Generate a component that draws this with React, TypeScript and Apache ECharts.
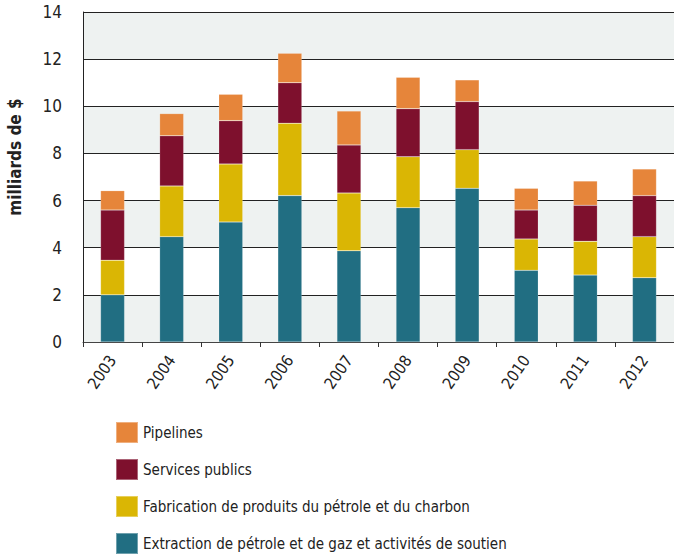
import React, { useEffect, useRef } from "react";
import * as echarts from "echarts";

const years = ["2003", "2004", "2005", "2006", "2007", "2008", "2009", "2010", "2011", "2012"];
const extraction = [2.0, 4.47, 5.09, 6.21, 3.87, 5.7, 6.52, 3.04, 2.84, 2.73];
const fabrication = [1.47, 2.15, 2.46, 3.07, 2.45, 2.16, 1.64, 1.33, 1.43, 1.74];
const services = [2.13, 2.13, 1.84, 1.72, 2.04, 2.04, 2.04, 1.23, 1.53, 1.74];
const pipelines = [0.82, 0.94, 1.12, 1.25, 1.44, 1.33, 0.92, 0.92, 1.03, 1.13];

const names = {
  extraction: "Extraction de pétrole et de gaz et activités de soutien",
  fabrication: "Fabrication de produits du pétrole et du charbon",
  services: "Services publics",
  pipelines: "Pipelines",
};
const colors = {
  extraction: "#216e82",
  fabrication: "#dab604",
  services: "#7e102d",
  pipelines: "#e6853a",
};

const FONT = "'DejaVu Sans Condensed', 'Liberation Sans Narrow', 'Roboto', sans-serif";

export default function App() {
  const ref = useRef<HTMLDivElement>(null);
  useEffect(() => {
    if (!ref.current) return;
    const chart = echarts.init(ref.current, null, { renderer: "svg" });
    const mk = (key: keyof typeof names, data: number[]) => ({
      name: names[key],
      type: "bar",
      stack: "total",
      barWidth: 24,
      data,
      itemStyle: { color: colors[key], borderColor: "rgba(255,255,255,0.35)", borderWidth: 0.5 },
    });
    chart.setOption({
      animation: false,
      textStyle: { fontFamily: FONT },
      grid: { left: 83, top: 12, width: 594, height: 330, containLabel: false },
      xAxis: {
        type: "category",
        data: years,
        axisLine: { show: true, lineStyle: { color: "#444", width: 1 } },
        axisTick: { show: true, length: 5, interval: 0, lineStyle: { color: "#333" } },
        axisLabel: { rotate: 55, margin: 15, fontSize: 16, color: "#222", fontFamily: FONT, interval: 0 },
      },
      yAxis: {
        type: "value",
        min: 0,
        max: 14,
        interval: 2,
        axisLine: { show: true, lineStyle: { color: "#222", width: 1 } },
        axisTick: { show: false },
        axisLabel: { margin: 21, fontSize: 17, color: "#222", fontFamily: FONT },
        splitLine: { show: true, lineStyle: { color: "#222", width: 1 } },
        splitArea: { show: true, areaStyle: { color: ["#eef2f1", "#ffffff"] } },
      },
      legend: {
        orient: "vertical",
        left: 115,
        top: 421,
        height: 300,
        width: 540,
        padding: 0,
        itemWidth: 22,
        itemHeight: 21,
        itemGap: 14,
        icon: "rect",
        data: [names.pipelines, names.services, names.fabrication, names.extraction],
        textStyle: { fontSize: 15, color: "#222", fontFamily: FONT },
      },
      graphic: [
        {
          type: "text",
          x: 15,
          y: 157,
          rotation: Math.PI / 2,
          style: {
            text: "milliards de $",
            fontSize: 17,
            fontWeight: "bold",
            fontFamily: FONT,
            fill: "#222",
            textAlign: "center",
            textVerticalAlign: "middle",
          },
        },
      ],
      series: [
        mk("extraction", extraction),
        mk("fabrication", fabrication),
        mk("services", services),
        mk("pipelines", pipelines),
      ],
    });
    return () => chart.dispose();
  }, []);
  return (
    <div
      ref={ref}
      style={{ position: "absolute", left: 0, top: 0, width: 674, height: 556 }}
    />
  );
}
